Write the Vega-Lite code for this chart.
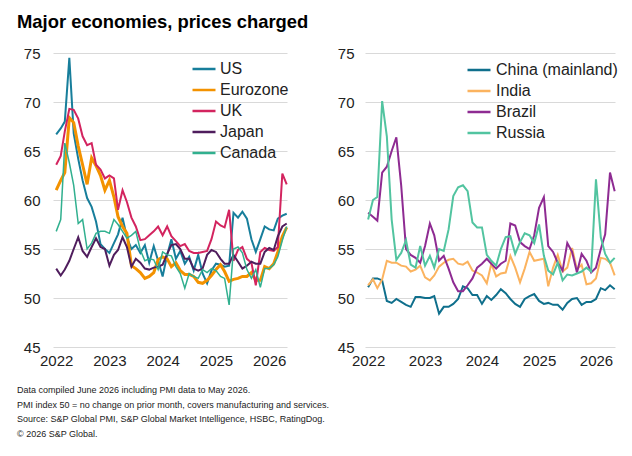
{
"$schema": "https://vega.github.io/schema/vega-lite/v6.json",
"background": "white",
"padding": {"left": 17, "top": 13, "right": 5, "bottom": 5},
"title": {"text": "Major economies, prices charged", "anchor": "start", "font": "Liberation Sans", "fontSize": 18.4, "fontWeight": "bold", "color": "#000000", "offset": 14.5},
"config": {
  "view": {"stroke": null},
  "font": "Liberation Sans",
  "axis": {"labelFont": "Liberation Sans", "labelFontSize": 15, "labelColor": "#222222", "ticks": false, "tickSize": 0, "domain": false, "title": null},
  "legend": {"orient": "none", "title": null, "labelFont": "Liberation Sans", "labelFontSize": 16, "labelColor": "#222222", "symbolType": "stroke", "symbolSize": 529, "symbolStrokeWidth": 2.5, "rowPadding": -4, "labelOffset": 3, "padding": 0}
},
"datasets": {
"left": [
{"date":"2022-01","series":"US","value":66.7},{"date":"2022-02","series":"US","value":67.3},{"date":"2022-03","series":"US","value":68.0},{"date":"2022-04","series":"US","value":74.5},{"date":"2022-05","series":"US","value":66.8},{"date":"2022-06","series":"US","value":64.2},{"date":"2022-07","series":"US","value":62.0},{"date":"2022-08","series":"US","value":60.2},{"date":"2022-09","series":"US","value":59.3},{"date":"2022-10","series":"US","value":57.8},{"date":"2022-11","series":"US","value":55.5},{"date":"2022-12","series":"US","value":55.0},
{"date":"2023-01","series":"US","value":54.6},{"date":"2023-02","series":"US","value":55.6},{"date":"2023-03","series":"US","value":56.5},{"date":"2023-04","series":"US","value":58.2},{"date":"2023-05","series":"US","value":56.2},{"date":"2023-06","series":"US","value":55.0},{"date":"2023-07","series":"US","value":55.4},{"date":"2023-08","series":"US","value":54.6},{"date":"2023-09","series":"US","value":55.4},{"date":"2023-10","series":"US","value":53.6},{"date":"2023-11","series":"US","value":55.3},{"date":"2023-12","series":"US","value":53.8},
{"date":"2024-01","series":"US","value":52.2},{"date":"2024-02","series":"US","value":54.4},{"date":"2024-03","series":"US","value":56.0},{"date":"2024-04","series":"US","value":54.0},{"date":"2024-05","series":"US","value":54.8},{"date":"2024-06","series":"US","value":53.5},{"date":"2024-07","series":"US","value":54.2},{"date":"2024-08","series":"US","value":52.8},{"date":"2024-09","series":"US","value":54.4},{"date":"2024-10","series":"US","value":52.5},{"date":"2024-11","series":"US","value":51.5},{"date":"2024-12","series":"US","value":52.8},
{"date":"2025-01","series":"US","value":53.5},{"date":"2025-02","series":"US","value":53.4},{"date":"2025-03","series":"US","value":53.2},{"date":"2025-04","series":"US","value":53.3},{"date":"2025-05","series":"US","value":58.7},{"date":"2025-06","series":"US","value":58.2},{"date":"2025-07","series":"US","value":58.8},{"date":"2025-08","series":"US","value":58.1},{"date":"2025-09","series":"US","value":56.0},{"date":"2025-10","series":"US","value":54.7},{"date":"2025-11","series":"US","value":56.0},{"date":"2025-12","series":"US","value":57.3},
{"date":"2026-01","series":"US","value":57.0},{"date":"2026-02","series":"US","value":56.9},{"date":"2026-03","series":"US","value":58.1},{"date":"2026-04","series":"US","value":58.4},{"date":"2026-05","series":"US","value":58.6},

{"date":"2022-01","series":"Eurozone","value":61.0},{"date":"2022-02","series":"Eurozone","value":62.0},{"date":"2022-03","series":"Eurozone","value":62.8},{"date":"2022-04","series":"Eurozone","value":68.4},{"date":"2022-05","series":"Eurozone","value":67.9},{"date":"2022-06","series":"Eurozone","value":65.5},{"date":"2022-07","series":"Eurozone","value":63.6},{"date":"2022-08","series":"Eurozone","value":61.6},{"date":"2022-09","series":"Eurozone","value":64.3},{"date":"2022-10","series":"Eurozone","value":63.5},{"date":"2022-11","series":"Eurozone","value":62.5},{"date":"2022-12","series":"Eurozone","value":61.0},
{"date":"2023-01","series":"Eurozone","value":62.0},{"date":"2023-02","series":"Eurozone","value":60.3},{"date":"2023-03","series":"Eurozone","value":58.3},{"date":"2023-04","series":"Eurozone","value":57.3},{"date":"2023-05","series":"Eurozone","value":56.6},{"date":"2023-06","series":"Eurozone","value":53.3},{"date":"2023-07","series":"Eurozone","value":53.0},{"date":"2023-08","series":"Eurozone","value":52.6},{"date":"2023-09","series":"Eurozone","value":52.0},{"date":"2023-10","series":"Eurozone","value":52.2},{"date":"2023-11","series":"Eurozone","value":52.6},{"date":"2023-12","series":"Eurozone","value":53.9},
{"date":"2024-01","series":"Eurozone","value":54.2},{"date":"2024-02","series":"Eurozone","value":54.0},{"date":"2024-03","series":"Eurozone","value":53.2},{"date":"2024-04","series":"Eurozone","value":53.6},{"date":"2024-05","series":"Eurozone","value":52.8},{"date":"2024-06","series":"Eurozone","value":52.4},{"date":"2024-07","series":"Eurozone","value":52.4},{"date":"2024-08","series":"Eurozone","value":52.2},{"date":"2024-09","series":"Eurozone","value":51.6},{"date":"2024-10","series":"Eurozone","value":51.5},{"date":"2024-11","series":"Eurozone","value":51.8},{"date":"2024-12","series":"Eurozone","value":52.3},
{"date":"2025-01","series":"Eurozone","value":52.9},{"date":"2025-02","series":"Eurozone","value":53.4},{"date":"2025-03","series":"Eurozone","value":52.7},{"date":"2025-04","series":"Eurozone","value":51.7},{"date":"2025-05","series":"Eurozone","value":51.9},{"date":"2025-06","series":"Eurozone","value":52.0},{"date":"2025-07","series":"Eurozone","value":52.2},{"date":"2025-08","series":"Eurozone","value":52.2},{"date":"2025-09","series":"Eurozone","value":52.6},{"date":"2025-10","series":"Eurozone","value":51.8},{"date":"2025-11","series":"Eurozone","value":51.8},{"date":"2025-12","series":"Eurozone","value":53.2},
{"date":"2026-01","series":"Eurozone","value":53.0},{"date":"2026-02","series":"Eurozone","value":53.5},{"date":"2026-03","series":"Eurozone","value":54.7},{"date":"2026-04","series":"Eurozone","value":56.3},{"date":"2026-05","series":"Eurozone","value":57.2},

{"date":"2022-01","series":"UK","value":63.6},{"date":"2022-02","series":"UK","value":64.5},{"date":"2022-03","series":"UK","value":67.0},{"date":"2022-04","series":"UK","value":69.3},{"date":"2022-05","series":"UK","value":69.2},{"date":"2022-06","series":"UK","value":68.3},{"date":"2022-07","series":"UK","value":66.5},{"date":"2022-08","series":"UK","value":65.6},{"date":"2022-09","series":"UK","value":65.8},{"date":"2022-10","series":"UK","value":63.6},{"date":"2022-11","series":"UK","value":63.1},{"date":"2022-12","series":"UK","value":62.2},
{"date":"2023-01","series":"UK","value":62.5},{"date":"2023-02","series":"UK","value":62.2},{"date":"2023-03","series":"UK","value":59.0},{"date":"2023-04","series":"UK","value":61.0},{"date":"2023-05","series":"UK","value":59.8},{"date":"2023-06","series":"UK","value":58.2},{"date":"2023-07","series":"UK","value":57.3},{"date":"2023-08","series":"UK","value":55.9},{"date":"2023-09","series":"UK","value":56.0},{"date":"2023-10","series":"UK","value":56.4},{"date":"2023-11","series":"UK","value":56.8},{"date":"2023-12","series":"UK","value":57.3},
{"date":"2024-01","series":"UK","value":56.4},{"date":"2024-02","series":"UK","value":57.3},{"date":"2024-03","series":"UK","value":56.3},{"date":"2024-04","series":"UK","value":55.8},{"date":"2024-05","series":"UK","value":55.3},{"date":"2024-06","series":"UK","value":55.5},{"date":"2024-07","series":"UK","value":54.8},{"date":"2024-08","series":"UK","value":54.6},{"date":"2024-09","series":"UK","value":54.6},{"date":"2024-10","series":"UK","value":54.7},{"date":"2024-11","series":"UK","value":54.8},{"date":"2024-12","series":"UK","value":56.0},
{"date":"2025-01","series":"UK","value":57.8},{"date":"2025-02","series":"UK","value":57.4},{"date":"2025-03","series":"UK","value":57.2},{"date":"2025-04","series":"UK","value":59.0},{"date":"2025-05","series":"UK","value":53.8},{"date":"2025-06","series":"UK","value":54.9},{"date":"2025-07","series":"UK","value":55.2},{"date":"2025-08","series":"UK","value":54.0},{"date":"2025-09","series":"UK","value":53.6},{"date":"2025-10","series":"UK","value":51.3},{"date":"2025-11","series":"UK","value":54.7},{"date":"2025-12","series":"UK","value":55.1},
{"date":"2026-01","series":"UK","value":54.9},{"date":"2026-02","series":"UK","value":54.8},{"date":"2026-03","series":"UK","value":55.2},{"date":"2026-04","series":"UK","value":62.7},{"date":"2026-05","series":"UK","value":61.6},

{"date":"2022-01","series":"Japan","value":53.0},{"date":"2022-02","series":"Japan","value":52.3},{"date":"2022-03","series":"Japan","value":52.9},{"date":"2022-04","series":"Japan","value":53.8},{"date":"2022-05","series":"Japan","value":55.0},{"date":"2022-06","series":"Japan","value":56.2},{"date":"2022-07","series":"Japan","value":54.8},{"date":"2022-08","series":"Japan","value":54.2},{"date":"2022-09","series":"Japan","value":55.2},{"date":"2022-10","series":"Japan","value":56.1},{"date":"2022-11","series":"Japan","value":55.2},{"date":"2022-12","series":"Japan","value":55.0},
{"date":"2023-01","series":"Japan","value":53.3},{"date":"2023-02","series":"Japan","value":54.4},{"date":"2023-03","series":"Japan","value":54.9},{"date":"2023-04","series":"Japan","value":56.2},{"date":"2023-05","series":"Japan","value":55.2},{"date":"2023-06","series":"Japan","value":53.2},{"date":"2023-07","series":"Japan","value":54.0},{"date":"2023-08","series":"Japan","value":53.6},{"date":"2023-09","series":"Japan","value":53.0},{"date":"2023-10","series":"Japan","value":52.9},{"date":"2023-11","series":"Japan","value":53.1},{"date":"2023-12","series":"Japan","value":53.2},
{"date":"2024-01","series":"Japan","value":53.4},{"date":"2024-02","series":"Japan","value":54.5},{"date":"2024-03","series":"Japan","value":55.4},{"date":"2024-04","series":"Japan","value":55.5},{"date":"2024-05","series":"Japan","value":55.0},{"date":"2024-06","series":"Japan","value":54.0},{"date":"2024-07","series":"Japan","value":54.0},{"date":"2024-08","series":"Japan","value":53.0},{"date":"2024-09","series":"Japan","value":52.8},{"date":"2024-10","series":"Japan","value":53.0},{"date":"2024-11","series":"Japan","value":54.4},{"date":"2024-12","series":"Japan","value":54.9},
{"date":"2025-01","series":"Japan","value":54.7},{"date":"2025-02","series":"Japan","value":54.0},{"date":"2025-03","series":"Japan","value":53.5},{"date":"2025-04","series":"Japan","value":53.5},{"date":"2025-05","series":"Japan","value":54.4},{"date":"2025-06","series":"Japan","value":53.7},{"date":"2025-07","series":"Japan","value":53.0},{"date":"2025-08","series":"Japan","value":53.3},{"date":"2025-09","series":"Japan","value":53.7},{"date":"2025-10","series":"Japan","value":53.5},{"date":"2025-11","series":"Japan","value":53.5},{"date":"2025-12","series":"Japan","value":54.7},
{"date":"2026-01","series":"Japan","value":55.1},{"date":"2026-02","series":"Japan","value":54.9},{"date":"2026-03","series":"Japan","value":56.3},{"date":"2026-04","series":"Japan","value":57.3},{"date":"2026-05","series":"Japan","value":57.6},

{"date":"2022-01","series":"Canada","value":56.8},{"date":"2022-02","series":"Canada","value":58.0},{"date":"2022-03","series":"Canada","value":65.8},{"date":"2022-04","series":"Canada","value":63.8},{"date":"2022-05","series":"Canada","value":61.5},{"date":"2022-06","series":"Canada","value":57.6},{"date":"2022-07","series":"Canada","value":58.0},{"date":"2022-08","series":"Canada","value":55.0},{"date":"2022-09","series":"Canada","value":55.6},{"date":"2022-10","series":"Canada","value":56.6},{"date":"2022-11","series":"Canada","value":56.8},{"date":"2022-12","series":"Canada","value":56.8},
{"date":"2023-01","series":"Canada","value":56.6},{"date":"2023-02","series":"Canada","value":58.0},{"date":"2023-03","series":"Canada","value":57.5},{"date":"2023-04","series":"Canada","value":56.8},{"date":"2023-05","series":"Canada","value":56.1},{"date":"2023-06","series":"Canada","value":56.4},{"date":"2023-07","series":"Canada","value":56.8},{"date":"2023-08","series":"Canada","value":54.9},{"date":"2023-09","series":"Canada","value":53.8},{"date":"2023-10","series":"Canada","value":54.0},{"date":"2023-11","series":"Canada","value":53.9},{"date":"2023-12","series":"Canada","value":52.9},
{"date":"2024-01","series":"Canada","value":54.7},{"date":"2024-02","series":"Canada","value":54.4},{"date":"2024-03","series":"Canada","value":54.3},{"date":"2024-04","series":"Canada","value":53.2},{"date":"2024-05","series":"Canada","value":52.5},{"date":"2024-06","series":"Canada","value":51.0},{"date":"2024-07","series":"Canada","value":52.5},{"date":"2024-08","series":"Canada","value":52.2},{"date":"2024-09","series":"Canada","value":52.0},{"date":"2024-10","series":"Canada","value":52.9},{"date":"2024-11","series":"Canada","value":52.6},{"date":"2024-12","series":"Canada","value":53.0},
{"date":"2025-01","series":"Canada","value":52.8},{"date":"2025-02","series":"Canada","value":52.2},{"date":"2025-03","series":"Canada","value":52.0},{"date":"2025-04","series":"Canada","value":49.3},{"date":"2025-05","series":"Canada","value":55.0},{"date":"2025-06","series":"Canada","value":55.2},{"date":"2025-07","series":"Canada","value":54.6},{"date":"2025-08","series":"Canada","value":52.9},{"date":"2025-09","series":"Canada","value":52.0},{"date":"2025-10","series":"Canada","value":52.9},{"date":"2025-11","series":"Canada","value":51.1},{"date":"2025-12","series":"Canada","value":53.0},
{"date":"2026-01","series":"Canada","value":53.0},{"date":"2026-02","series":"Canada","value":53.4},{"date":"2026-03","series":"Canada","value":54.2},{"date":"2026-04","series":"Canada","value":55.9},{"date":"2026-05","series":"Canada","value":57.3}
],
"right": [
{"date":"2022-01","series":"China (mainland)","value":51.1},{"date":"2022-02","series":"China (mainland)","value":52.0},{"date":"2022-03","series":"China (mainland)","value":52.0},{"date":"2022-04","series":"China (mainland)","value":51.8},{"date":"2022-05","series":"China (mainland)","value":49.7},{"date":"2022-06","series":"China (mainland)","value":49.5},{"date":"2022-07","series":"China (mainland)","value":49.9},{"date":"2022-08","series":"China (mainland)","value":49.6},{"date":"2022-09","series":"China (mainland)","value":49.3},{"date":"2022-10","series":"China (mainland)","value":49.1},{"date":"2022-11","series":"China (mainland)","value":50.1},{"date":"2022-12","series":"China (mainland)","value":50.1},
{"date":"2023-01","series":"China (mainland)","value":50.0},{"date":"2023-02","series":"China (mainland)","value":50.0},{"date":"2023-03","series":"China (mainland)","value":50.2},{"date":"2023-04","series":"China (mainland)","value":48.4},{"date":"2023-05","series":"China (mainland)","value":49.1},{"date":"2023-06","series":"China (mainland)","value":49.1},{"date":"2023-07","series":"China (mainland)","value":49.4},{"date":"2023-08","series":"China (mainland)","value":49.9},{"date":"2023-09","series":"China (mainland)","value":51.2},{"date":"2023-10","series":"China (mainland)","value":51.0},{"date":"2023-11","series":"China (mainland)","value":50.3},{"date":"2023-12","series":"China (mainland)","value":50.3},
{"date":"2024-01","series":"China (mainland)","value":49.4},{"date":"2024-02","series":"China (mainland)","value":50.2},{"date":"2024-03","series":"China (mainland)","value":49.8},{"date":"2024-04","series":"China (mainland)","value":50.3},{"date":"2024-05","series":"China (mainland)","value":50.9},{"date":"2024-06","series":"China (mainland)","value":50.5},{"date":"2024-07","series":"China (mainland)","value":49.9},{"date":"2024-08","series":"China (mainland)","value":49.4},{"date":"2024-09","series":"China (mainland)","value":49.1},{"date":"2024-10","series":"China (mainland)","value":49.9},{"date":"2024-11","series":"China (mainland)","value":50.2},{"date":"2024-12","series":"China (mainland)","value":50.4},
{"date":"2025-01","series":"China (mainland)","value":49.7},{"date":"2025-02","series":"China (mainland)","value":49.4},{"date":"2025-03","series":"China (mainland)","value":49.5},{"date":"2025-04","series":"China (mainland)","value":49.3},{"date":"2025-05","series":"China (mainland)","value":49.3},{"date":"2025-06","series":"China (mainland)","value":48.8},{"date":"2025-07","series":"China (mainland)","value":49.5},{"date":"2025-08","series":"China (mainland)","value":49.9},{"date":"2025-09","series":"China (mainland)","value":50.0},{"date":"2025-10","series":"China (mainland)","value":49.3},{"date":"2025-11","series":"China (mainland)","value":49.6},{"date":"2025-12","series":"China (mainland)","value":49.6},
{"date":"2026-01","series":"China (mainland)","value":49.9},{"date":"2026-02","series":"China (mainland)","value":51.0},{"date":"2026-03","series":"China (mainland)","value":50.8},{"date":"2026-04","series":"China (mainland)","value":51.3},{"date":"2026-05","series":"China (mainland)","value":50.9},

{"date":"2022-01","series":"India","value":51.3},{"date":"2022-02","series":"India","value":51.9},{"date":"2022-03","series":"India","value":51.0},{"date":"2022-04","series":"India","value":51.9},{"date":"2022-05","series":"India","value":53.8},{"date":"2022-06","series":"India","value":53.6},{"date":"2022-07","series":"India","value":53.6},{"date":"2022-08","series":"India","value":53.3},{"date":"2022-09","series":"India","value":53.2},{"date":"2022-10","series":"India","value":52.7},{"date":"2022-11","series":"India","value":52.9},{"date":"2022-12","series":"India","value":53.3},
{"date":"2023-01","series":"India","value":52.1},{"date":"2023-02","series":"India","value":51.8},{"date":"2023-03","series":"India","value":52.3},{"date":"2023-04","series":"India","value":53.2},{"date":"2023-05","series":"India","value":53.6},{"date":"2023-06","series":"India","value":53.9},{"date":"2023-07","series":"India","value":54.0},{"date":"2023-08","series":"India","value":53.5},{"date":"2023-09","series":"India","value":53.4},{"date":"2023-10","series":"India","value":53.7},{"date":"2023-11","series":"India","value":52.8},{"date":"2023-12","series":"India","value":52.6},
{"date":"2024-01","series":"India","value":52.3},{"date":"2024-02","series":"India","value":51.5},{"date":"2024-03","series":"India","value":53.5},{"date":"2024-04","series":"India","value":52.2},{"date":"2024-05","series":"India","value":52.5},{"date":"2024-06","series":"India","value":52.6},{"date":"2024-07","series":"India","value":54.3},{"date":"2024-08","series":"India","value":53.1},{"date":"2024-09","series":"India","value":51.6},{"date":"2024-10","series":"India","value":53.0},{"date":"2024-11","series":"India","value":54.7},{"date":"2024-12","series":"India","value":53.8},
{"date":"2025-01","series":"India","value":53.9},{"date":"2025-02","series":"India","value":54.0},{"date":"2025-03","series":"India","value":51.2},{"date":"2025-04","series":"India","value":53.1},{"date":"2025-05","series":"India","value":54.4},{"date":"2025-06","series":"India","value":52.7},{"date":"2025-07","series":"India","value":53.1},{"date":"2025-08","series":"India","value":55.1},{"date":"2025-09","series":"India","value":52.9},{"date":"2025-10","series":"India","value":53.4},{"date":"2025-11","series":"India","value":51.4},{"date":"2025-12","series":"India","value":51.5},
{"date":"2026-01","series":"India","value":52.0},{"date":"2026-02","series":"India","value":54.1},{"date":"2026-03","series":"India","value":54.0},{"date":"2026-04","series":"India","value":53.6},{"date":"2026-05","series":"India","value":52.3},

{"date":"2022-01","series":"Brazil","value":58.7},{"date":"2022-02","series":"Brazil","value":58.3},{"date":"2022-03","series":"Brazil","value":57.9},{"date":"2022-04","series":"Brazil","value":62.8},{"date":"2022-05","series":"Brazil","value":63.4},{"date":"2022-06","series":"Brazil","value":65.0},{"date":"2022-07","series":"Brazil","value":66.4},{"date":"2022-08","series":"Brazil","value":61.5},{"date":"2022-09","series":"Brazil","value":55.0},{"date":"2022-10","series":"Brazil","value":54.4},{"date":"2022-11","series":"Brazil","value":54.1},{"date":"2022-12","series":"Brazil","value":53.6},
{"date":"2023-01","series":"Brazil","value":55.3},{"date":"2023-02","series":"Brazil","value":57.6},{"date":"2023-03","series":"Brazil","value":56.4},{"date":"2023-04","series":"Brazil","value":53.8},{"date":"2023-05","series":"Brazil","value":54.3},{"date":"2023-06","series":"Brazil","value":53.0},{"date":"2023-07","series":"Brazil","value":51.6},{"date":"2023-08","series":"Brazil","value":50.7},{"date":"2023-09","series":"Brazil","value":50.7},{"date":"2023-10","series":"Brazil","value":51.3},{"date":"2023-11","series":"Brazil","value":52.0},{"date":"2023-12","series":"Brazil","value":53.1},
{"date":"2024-01","series":"Brazil","value":53.5},{"date":"2024-02","series":"Brazil","value":54.0},{"date":"2024-03","series":"Brazil","value":53.5},{"date":"2024-04","series":"Brazil","value":53.0},{"date":"2024-05","series":"Brazil","value":53.5},{"date":"2024-06","series":"Brazil","value":53.8},{"date":"2024-07","series":"Brazil","value":57.6},{"date":"2024-08","series":"Brazil","value":57.4},{"date":"2024-09","series":"Brazil","value":55.7},{"date":"2024-10","series":"Brazil","value":55.3},{"date":"2024-11","series":"Brazil","value":55.0},{"date":"2024-12","series":"Brazil","value":56.4},
{"date":"2025-01","series":"Brazil","value":59.2},{"date":"2025-02","series":"Brazil","value":60.3},{"date":"2025-03","series":"Brazil","value":55.3},{"date":"2025-04","series":"Brazil","value":54.7},{"date":"2025-05","series":"Brazil","value":53.6},{"date":"2025-06","series":"Brazil","value":52.8},{"date":"2025-07","series":"Brazil","value":55.6},{"date":"2025-08","series":"Brazil","value":54.7},{"date":"2025-09","series":"Brazil","value":52.6},{"date":"2025-10","series":"Brazil","value":54.5},{"date":"2025-11","series":"Brazil","value":53.8},{"date":"2025-12","series":"Brazil","value":52.6},
{"date":"2026-01","series":"Brazil","value":53.1},{"date":"2026-02","series":"Brazil","value":55.0},{"date":"2026-03","series":"Brazil","value":56.5},{"date":"2026-04","series":"Brazil","value":62.8},{"date":"2026-05","series":"Brazil","value":60.9},

{"date":"2022-01","series":"Russia","value":58.0},{"date":"2022-02","series":"Russia","value":60.0},{"date":"2022-03","series":"Russia","value":60.3},{"date":"2022-04","series":"Russia","value":70.1},{"date":"2022-05","series":"Russia","value":66.5},{"date":"2022-06","series":"Russia","value":58.0},{"date":"2022-07","series":"Russia","value":53.9},{"date":"2022-08","series":"Russia","value":54.6},{"date":"2022-09","series":"Russia","value":55.9},{"date":"2022-10","series":"Russia","value":53.4},{"date":"2022-11","series":"Russia","value":53.1},{"date":"2022-12","series":"Russia","value":55.3},
{"date":"2023-01","series":"Russia","value":53.3},{"date":"2023-02","series":"Russia","value":54.3},{"date":"2023-03","series":"Russia","value":53.1},{"date":"2023-04","series":"Russia","value":55.0},{"date":"2023-05","series":"Russia","value":54.8},{"date":"2023-06","series":"Russia","value":57.0},{"date":"2023-07","series":"Russia","value":60.4},{"date":"2023-08","series":"Russia","value":61.3},{"date":"2023-09","series":"Russia","value":61.5},{"date":"2023-10","series":"Russia","value":60.9},{"date":"2023-11","series":"Russia","value":57.7},{"date":"2023-12","series":"Russia","value":57.2},
{"date":"2024-01","series":"Russia","value":57.2},{"date":"2024-02","series":"Russia","value":54.4},{"date":"2024-03","series":"Russia","value":53.8},{"date":"2024-04","series":"Russia","value":53.3},{"date":"2024-05","series":"Russia","value":55.0},{"date":"2024-06","series":"Russia","value":56.2},{"date":"2024-07","series":"Russia","value":56.3},{"date":"2024-08","series":"Russia","value":54.5},{"date":"2024-09","series":"Russia","value":55.7},{"date":"2024-10","series":"Russia","value":56.6},{"date":"2024-11","series":"Russia","value":56.4},{"date":"2024-12","series":"Russia","value":55.6},
{"date":"2025-01","series":"Russia","value":57.5},{"date":"2025-02","series":"Russia","value":54.3},{"date":"2025-03","series":"Russia","value":52.8},{"date":"2025-04","series":"Russia","value":52.4},{"date":"2025-05","series":"Russia","value":53.6},{"date":"2025-06","series":"Russia","value":51.8},{"date":"2025-07","series":"Russia","value":52.4},{"date":"2025-08","series":"Russia","value":52.3},{"date":"2025-09","series":"Russia","value":52.5},{"date":"2025-10","series":"Russia","value":52.7},{"date":"2025-11","series":"Russia","value":53.1},{"date":"2025-12","series":"Russia","value":52.7},
{"date":"2026-01","series":"Russia","value":62.1},{"date":"2026-02","series":"Russia","value":56.2},{"date":"2026-03","series":"Russia","value":54.5},{"date":"2026-04","series":"Russia","value":53.6},{"date":"2026-05","series":"Russia","value":54.1}
]
},
"vconcat": [
{
"spacing": 44,
"resolve": {"scale": {"x": "independent", "y": "independent", "color": "independent"}, "legend": {"color": "independent"}, "axis": {"x": "independent", "y": "independent"}},
"title": {"text": ["Data compiled June 2026 including PMI data to May 2026.", "PMI index 50 = no change on prior month, covers manufacturing and services.", "Source: S&P Global PMI, S&P Global Market Intelligence, HSBC, RatingDog.", "© 2026 S&P Global."], "orient": "bottom", "anchor": "start", "font": "Liberation Sans", "fontSize": 9, "fontWeight": "normal", "color": "#222222", "lineHeight": 14.5, "offset": 18},
"hconcat": [
{
"width": 234, "height": 294,
"data": {"name": "left"},
"mark": {"type": "line", "interpolate": "linear"},
"encoding": {
  "x": {"field": "date", "type": "temporal", "scale": {"domain": [{"year": 2021, "month": 12, "date": 10, "utc": true}, {"year": 2026, "month": 5, "date": 3, "utc": true}]}, "axis": {"format": "%Y", "tickCount": {"interval": "year", "step": 1}, "labelFlush": false, "grid": false, "labelPadding": 6}},
  "y": {"field": "value", "type": "quantitative", "scale": {"domain": [45, 75], "nice": false, "zero": false}, "axis": {"values": [45, 50, 55, 60, 65, 70, 75], "grid": true, "gridColor": "#d9d9d9", "gridWidth": 1, "labelPadding": 13, "minExtent": 36}},
  "color": {"field": "series", "type": "nominal", "sort": null, "scale": {"domain": ["US", "Eurozone", "UK", "Japan", "Canada"], "range": ["#177e9b", "#f39200", "#d3245f", "#4f1d5d", "#31b08f"]}, "legend": {"legendX": 138, "legendY": 3, "rowPadding": -6, "labelOffset": 3}},
  "strokeWidth": {"condition": [{"test": "datum.series === 'Eurozone'", "value": 3}, {"test": "datum.series === 'Canada'", "value": 1.5}], "value": 2}
}
},
{
"width": 250, "height": 294,
"data": {"name": "right"},
"mark": {"type": "line", "interpolate": "linear", "strokeWidth": 2},
"encoding": {
  "x": {"field": "date", "type": "temporal", "scale": {"domain": [{"year": 2021, "month": 12, "date": 12, "utc": true}, {"year": 2026, "month": 5, "date": 3, "utc": true}]}, "axis": {"format": "%Y", "tickCount": {"interval": "year", "step": 1}, "labelFlush": false, "grid": false, "labelPadding": 6}},
  "y": {"field": "value", "type": "quantitative", "scale": {"domain": [45, 75], "nice": false, "zero": false}, "axis": {"values": [45, 50, 55, 60, 65, 70, 75], "grid": true, "gridColor": "#d9d9d9", "gridWidth": 1, "labelPadding": 11}},
  "color": {"field": "series", "type": "nominal", "sort": null, "scale": {"domain": ["China (mainland)", "India", "Brazil", "Russia"], "range": ["#0f6f8c", "#fbb35f", "#8e2b92", "#52c4a0"]}, "legend": {"legendX": 101, "legendY": 4, "rowPadding": 0, "labelOffset": 4}}
}
}
]
}
]
}
